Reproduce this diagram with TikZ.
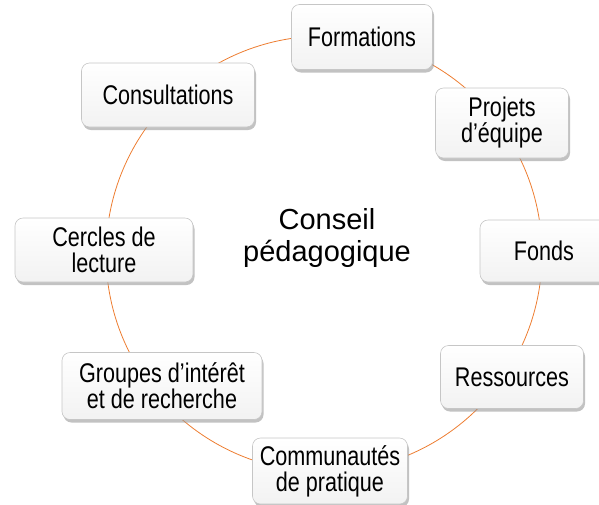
\documentclass[tikz,border=0pt]{standalone}
\usepackage{fontspec}
\setmainfont{Liberation Sans}
\newfontfamily\boxfont[FakeStretch=0.8]{Liberation Sans}
\usepackage{xcolor}
\usetikzlibrary{shadows}
\definecolor{ringorange}{HTML}{ED7D31}
\tikzset{
    box/.style = {rectangle, rounded corners = 8pt, draw = gray!45, line width = 0.6pt,
        top color = white, bottom color = gray!10,
        drop shadow = {shadow xshift = 1.5pt, shadow yshift = -3pt, fill = black!40, opacity = 0.6},
        align = center, inner sep = 0pt, minimum width = #1,
        font = {\boxfont\fontsize{27}{26}\selectfont}},
}
\begin{document}
\begin{tikzpicture}
        [x = 1pt, y = -1pt]
        \useasboundingbox (0, 0) rectangle (599, 504);
        \node (ring) [circle, draw = ringorange, line width = 0.8pt, minimum size = 436pt] at (324, 254) {};
        \node (centre) [align = center, font = {\fontsize{29}{32}\selectfont}] at (327, 238) {Conseil\\p\'edagogique};
        \node (formations) [box = 141pt, minimum height = 65pt] at (362, 37) {Formations};
        \node (projets) [box = 133pt, minimum height = 70pt] at (502, 123) {Projets\\d’\'equipe};
        \node (fonds) [box = 128pt, minimum height = 62pt] at (544, 251) {Fonds};
        \node (ressources) [box = 143pt, minimum height = 63pt] at (512, 377) {Ressources};
        \node (communautes) [box = 155pt, minimum height = 66pt] at (330, 471) {Communaut\'es\\de pratique};
        \node (groupes) [box = 200pt, minimum height = 67pt] at (162, 386) {Groupes d’int\'er\^et\\et de recherche};
        \node (cercles) [box = 178pt, minimum height = 64pt] at (104, 250) {Cercles de\\lecture};
        \node (consultations) [box = 173pt, minimum height = 64pt] at (168, 95) {Consultations};
    \end{tikzpicture}
\end{document}
